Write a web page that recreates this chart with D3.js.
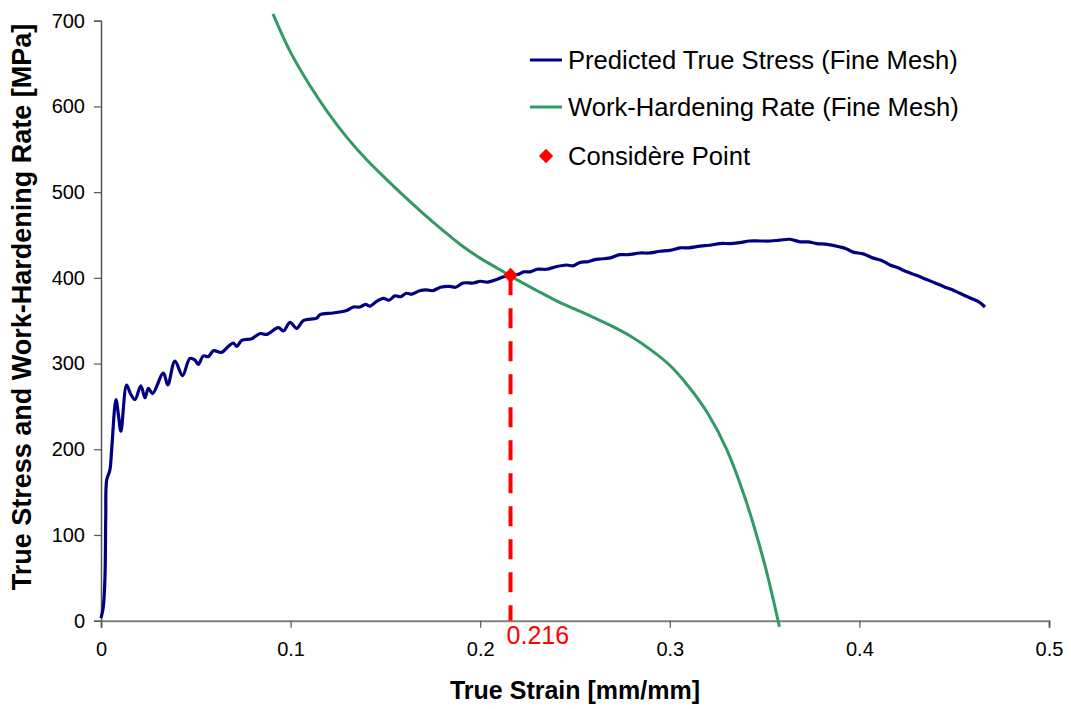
<!DOCTYPE html>
<html>
<head>
<meta charset="utf-8">
<script src="https://cdn.jsdelivr.net/npm/d3@7/dist/d3.min.js"></script>
<style>
  html, body { margin: 0; padding: 0; background: #fff; }
  svg { display: block; font-family: Arial, "Liberation Sans", sans-serif; }
</style>
</head>
<body>
<svg id="chart" width="1071" height="709"></svg>
<script>
// True stress vs. true strain (fine mesh)
const stressStrain = [0,0.0012,0.0021,0.0025,0.003,0.0047,0.0056,0.0079,0.0092,0.0105,0.0135,0.0155,0.0179,0.021,0.0232,0.025,0.0272,0.0329,0.0352,0.039,0.043,0.0469,0.0496,0.0513,0.054,0.0566,0.0593,0.0636,0.0671,0.0698,0.0716,0.0742,0.0795,0.0839,0.0874,0.0935,0.0962,0.0997,0.1032,0.1067,0.1138,0.1155,0.1225,0.1296,0.1331,
  0.1366,0.1395,0.142,0.145,0.149,0.152,0.155,0.158,0.161,0.164,0.168,0.1717,0.175,0.179,0.184,0.187,0.191,0.1964,0.2,0.204,0.2087,0.212,0.2162,0.22,0.223,0.2263,0.23,0.235,0.24,0.2456,0.249,0.2526,0.257,0.26,0.2632,0.268,0.2737,0.278,0.2843,0.289,0.2948,0.3,0.3054,0.31,0.316,0.321,0.3265,0.332,0.337,0.342,0.3476,0.353,0.358,0.3634,0.3687,0.373,0.3775,0.383,0.3898,0.393,0.3968,0.402,0.4074,0.412,0.4161,0.42,0.425,0.43,0.4355,0.44,0.4443,0.449,0.453,0.457,0.46,0.463,0.4662];
const stressValues = [3,16,51,120,164,176,199,258,240,221,275,265,258,274,260,271,265,289,275,303,286,306,304,299,309,308,315,313,320,324,320,327,329,335,334,342,338,348,341,350,353,357,359,362,366,
  366,369,367,372,376,374,379,378,382,381,385,386,385,389,390,389,394,394,396,395,398,401,403,404,407,407,410,410,413,415,414,418,419,421,422,423,427,427,429,429,431,432,435,435,437,438,440,440,441,443,443,443,444,445,442,442,440,439,436,434,430,428,423,420,415,412,407,403,398,394,390,386,382,378,375,372,366];

// Work-hardening rate (fine mesh)
const hardeningStrain = [0.0907,0.1,0.11,0.12,0.13,0.14,0.15,0.16,0.17,0.18,0.19,0.2,0.21,0.22,0.23,0.24,0.25,0.26,0.27,0.28,0.29,0.3,0.31,0.32,0.33,0.34,0.35,0.3578];
const hardeningValues = [708,663,625,592,563,538,516,495,475,456,438,423,410,397,385,373.5,363.5,353.5,343,331,316,298,273,242,200,141,66,-7];

// Considère point
const considereStrain = 0.216;
const considereStress = 403;

const xTicks = [0, 0.1, 0.2, 0.3, 0.4, 0.5];
const yTicks = [0, 100, 200, 300, 400, 500, 600, 700];

const seriesNames = ["Predicted True Stress (Fine Mesh)", "Work-Hardening Rate (Fine Mesh)", "Considère Point"];
const xTitle = "True Strain [mm/mm]";
const yTitle = "True Stress and Work-Hardening Rate [MPa]";

const svg = d3.select("#chart");
const plot = { left: 101, right: 1049, top: 20.7, bottom: 620.7 };

const x = d3.scaleLinear().domain([0, 0.5]).range([plot.left, plot.right]);
const y = d3.scaleLinear().domain([0, 700]).range([plot.bottom, plot.top]);

const BLUE = "#000080", GREEN = "#339966", RED = "#ff0000";

// Axes
const yAxis = svg.append("g")
  .attr("transform", `translate(${plot.left},0)`)
  .call(d3.axisLeft(y).tickValues(yTicks).tickSize(7).tickPadding(9).tickFormat(d3.format("d")));
yAxis.select(".domain").attr("stroke", "#555").attr("stroke-width", 1.5);
yAxis.selectAll(".tick line").attr("stroke", "#555").attr("stroke-width", 1.2);
yAxis.selectAll(".tick text").attr("font-size", 20).attr("fill", "#000")
  .attr("font-family", "Arial, 'Liberation Sans', sans-serif");

const xAxis = svg.append("g")
  .attr("transform", `translate(0,${plot.bottom})`)
  .call(d3.axisBottom(x).tickValues(xTicks).tickSize(7).tickPadding(14).tickFormat(d => d === 0 ? "0" : d3.format(".1f")(d)));
xAxis.select(".domain").attr("stroke", "#808080").attr("stroke-width", 2);
xAxis.selectAll(".tick line").attr("stroke", "#555").attr("stroke-width", 1.2);
xAxis.selectAll(".tick text").attr("font-size", 20).attr("fill", "#000")
  .attr("font-family", "Arial, 'Liberation Sans', sans-serif");

// Axis titles
svg.append("text")
  .attr("x", (plot.left + plot.right) / 2).attr("y", 699)
  .attr("text-anchor", "middle").attr("font-weight", "bold").attr("font-size", 25)
  .text(xTitle);
svg.append("text")
  .attr("transform", `translate(31,307) rotate(-90)`)
  .attr("text-anchor", "middle").attr("font-weight", "bold").attr("font-size", 27)
  .text(yTitle);

const line = d3.line().curve(d3.curveCatmullRom.alpha(0.5));

// Work-hardening rate curve
svg.append("path")
  .attr("d", line(hardeningStrain.map((s, i) => [x(s), y(hardeningValues[i])])))
  .attr("fill", "none").attr("stroke", GREEN).attr("stroke-width", 3);

// True stress curve
svg.append("path")
  .attr("d", line(stressStrain.map((s, i) => [x(s), y(stressValues[i])])))
  .attr("fill", "none").attr("stroke", BLUE).attr("stroke-width", 3.2)
  .attr("stroke-linejoin", "round");

// Drop line from the Considère point to the strain axis
svg.append("line")
  .attr("x1", x(considereStrain)).attr("x2", x(considereStrain))
  .attr("y1", y(considereStress)).attr("y2", y(0))
  .attr("stroke", RED).attr("stroke-width", 4).attr("stroke-dasharray", "20,13");

const diamond = d3.symbol().type(d3.symbolDiamond2).size(140);
svg.append("path")
  .attr("d", diamond())
  .attr("transform", `translate(${x(considereStrain)},${y(considereStress)})`)
  .attr("fill", RED);

svg.append("text")
  .attr("x", x(considereStrain) - 4).attr("y", y(0) + 23)
  .attr("fill", RED).attr("font-size", 25)
  .text(d3.format(".3f")(considereStrain));

// Legend
const legend = svg.append("g").attr("font-size", 25.6);
const rowY = [60, 107, 156];
legend.append("line").attr("x1", 530).attr("x2", 562).attr("y1", rowY[0]).attr("y2", rowY[0])
  .attr("stroke", BLUE).attr("stroke-width", 3);
legend.append("line").attr("x1", 530).attr("x2", 562).attr("y1", rowY[1]).attr("y2", rowY[1])
  .attr("stroke", GREEN).attr("stroke-width", 3);
legend.append("path").attr("d", d3.symbol().type(d3.symbolDiamond2).size(130)())
  .attr("transform", `translate(546,${rowY[2]})`).attr("fill", RED);
seriesNames.forEach((name, i) => {
  legend.append("text").attr("x", 568).attr("y", rowY[i]).attr("dy", "0.36em").attr("fill", "#000").text(name);
});
</script>
</body>
</html>
